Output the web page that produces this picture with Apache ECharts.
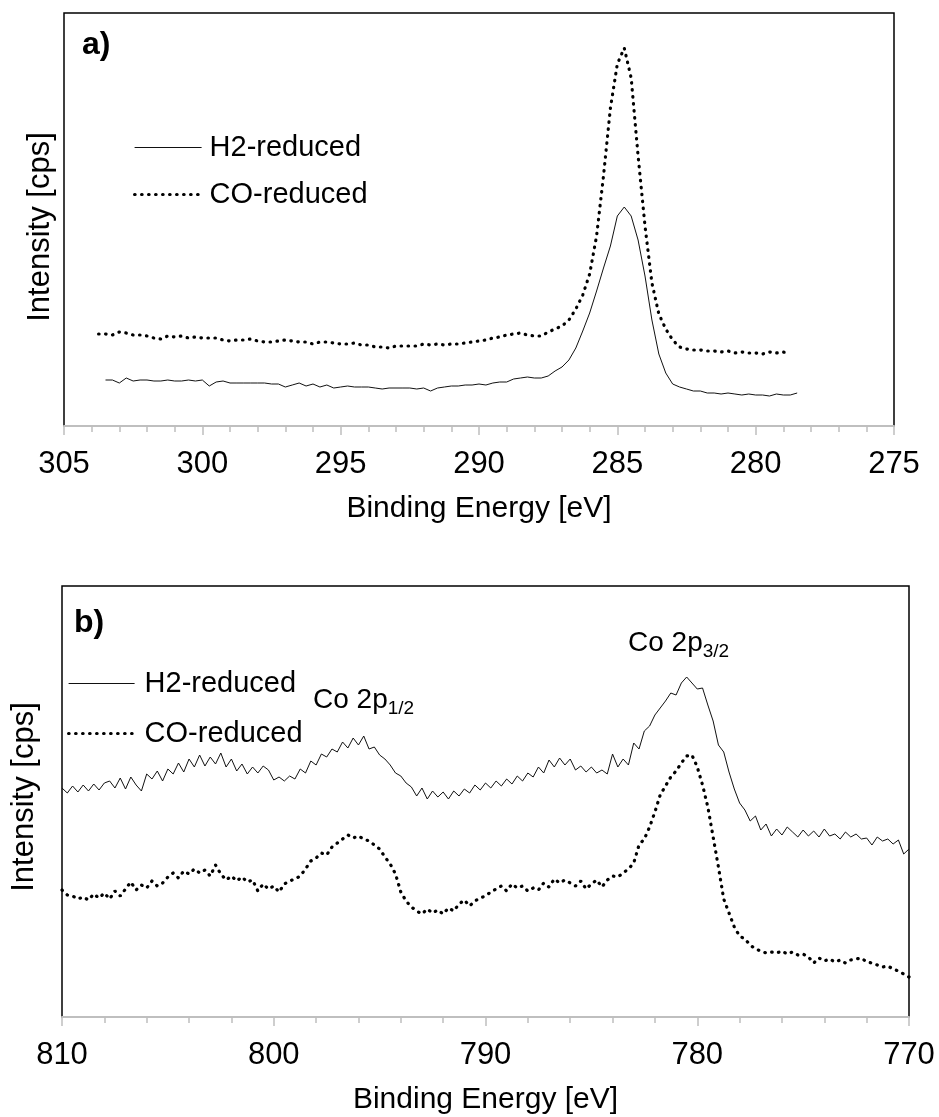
<!DOCTYPE html>
<html>
<head>
<meta charset="utf-8">
<title>XPS C 1s and Co 2p</title>
<script src="https://cdn.jsdelivr.net/npm/echarts@6/dist/echarts.min.js"></script>
<style>
  html, body { margin: 0; padding: 0; background: #fff; }
  #chart { width: 939px; height: 1117px; }
</style>
</head>
<body>
<div id="chart"></div>
<script>
// ---- data (intensity in arbitrary units) ----
// panel a) C 1s region, 0.25 eV steps going down in energy
const aH2Start = 303.5
const aCOStart = 303.75
const aStep = 0.25
const aH2 = [
  46, 46, 43, 48, 45, 46, 46, 45, 45, 46, 45, 45, 46, 45, 46, 40,
  44, 45, 43, 43, 43, 43, 43, 43, 42, 42, 39, 41, 43, 40, 42, 39,
  41, 38, 39, 40, 39, 39, 39, 38, 37, 38, 38, 38, 38, 37, 38, 35,
  38, 39, 40, 40, 41, 41, 42, 41, 43, 44, 44, 47, 48, 49, 48, 48,
  50, 55, 59, 66, 78, 95, 113, 135, 158, 180, 210, 219, 210, 186, 150, 106,
  72, 53, 42, 39, 37, 35, 35, 33, 33, 32, 33, 32, 31, 32, 31, 31,
  30, 32, 31, 31, 33
]
const aCO = [
  92, 92, 91, 94, 93, 91, 91, 90, 88, 87, 90, 89, 90, 88, 89, 88,
  88, 88, 86, 85, 86, 86, 87, 85, 84, 84, 85, 86, 85, 84, 84, 82,
  84, 84, 83, 82, 82, 83, 81, 81, 79, 79, 78, 80, 80, 80, 80, 82,
  81, 82, 81, 82, 82, 83, 84, 85, 86, 88, 89, 91, 92, 93, 91, 90,
  90, 94, 97, 100, 106, 117, 131, 152, 190, 250, 318, 362, 378, 348, 270, 200,
  143, 112, 97, 86, 79, 77, 76, 76, 75, 75, 74, 75, 73, 74, 73, 73,
  72, 74, 73, 74, 72
]

// panel b) Co 2p region, 810 -> 770 eV in 0.25 eV steps (one row per eV)
const bStart = 810
const bStep = 0.25
const bH2 = [
  229, 224, 231, 225, 232, 226, 233, 227, 234, 236, 229, 239, 228, 240, 232, 226,
  243, 238, 246, 236, 248, 243, 254, 245, 258, 250, 262, 251, 260, 253, 264, 250,
  258, 246, 253, 243, 250, 244, 251, 247, 237, 240, 236, 241, 238, 248, 244, 256,
  252, 263, 260, 268, 265, 275, 269, 279, 272, 281, 268, 270, 262, 258, 252, 244,
  241, 234, 230, 221, 229, 218, 226, 220, 225, 218, 226, 221, 228, 224, 232, 227,
  234, 229, 236, 231, 238, 233, 241, 236, 244, 240, 250, 244, 257, 250, 259, 252,
  258, 247, 251, 245, 250, 244, 247, 243, 263, 250, 258, 252, 274, 268, 286, 291,
  302, 309, 316, 324, 322, 334, 340, 334, 328, 329, 312, 296, 272, 265, 245, 228,
  214, 207, 196, 201, 187, 193, 181, 188, 182, 190, 185, 180, 187, 181, 186, 180,
  188, 181, 183, 178, 185, 180, 183, 178, 179, 172, 180, 176, 178, 173, 177, 163,
  168
]
const bCO = [
  127, 122, 121, 118, 120, 117, 123, 119, 124, 118, 126, 121, 128, 135, 127, 132,
  129, 136, 131, 134, 140, 144, 139, 146, 143, 148, 144, 147, 141, 152, 143, 137,
  141, 136, 140, 135, 137, 126, 133, 128, 131, 125, 133, 136, 138, 141, 148, 156,
  159, 164, 162, 170, 174, 178, 182, 179, 181, 178, 176, 172, 168, 160, 153, 143,
  125, 116, 110, 106, 103, 108, 104, 107, 103, 109, 106, 113, 117, 111, 116, 119,
  121, 125, 128, 131, 126, 133, 129, 131, 126, 129, 127, 134, 130, 138, 134, 137,
  134, 131, 136, 128, 133, 137, 130, 137, 141, 140, 144, 148, 154, 172, 178, 190,
  205, 222, 231, 240, 246, 254, 261, 262, 250, 232, 210, 180, 150, 118, 104, 90,
  81, 78, 72, 68, 66, 64, 65, 64, 66, 63, 65, 62, 63, 60, 54, 59,
  56, 58, 55, 57, 54, 57, 58, 59, 55, 54, 52, 50, 51, 48, 46, 43,
  40
]

const seriesNames = ['H2-reduced', 'CO-reduced']
const xTitle = 'Binding Energy [eV]'
const yTitle = 'Intensity [cps]'

// ---- styling ----
const FONT = '"Liberation Sans", Arial, Helvetica, sans-serif'
const AXIS_GREY = '#bfbfbf'
const solidLine = { color: '#111', width: 1 }
const dotLine = { color: '#000', width: 3.2, type: [0.5, 6.5], cap: 'round' }

function toPairs(start, step, values) {
  return values.map((v, i) => [+(start - i * step).toFixed(2), v])
}

function makeXAxis(gridIndex, min, max, interval, minorSplit) {
  return {
    type: 'value',
    gridIndex,
    inverse: true,
    min,
    max,
    interval,
    name: xTitle,
    nameLocation: 'middle',
    nameGap: 68,
    nameTextStyle: { fontFamily: FONT, fontSize: 30, color: '#000' },
    axisLine: { show: true, onZero: false, lineStyle: { color: AXIS_GREY, width: 2 } },
    axisTick: { show: true, length: 9, lineStyle: { color: AXIS_GREY, width: 1.5 } },
    minorTick: { show: true, splitNumber: minorSplit, length: 6, lineStyle: { color: AXIS_GREY, width: 1.5 } },
    axisLabel: { margin: 23, fontFamily: FONT, fontSize: 31, color: '#000' },
    splitLine: { show: false },
    minorSplitLine: { show: false }
  }
}

function makeYAxis(gridIndex, max, nameGap, namePadding) {
  return {
    type: 'value',
    gridIndex,
    min: 0,
    max,
    name: yTitle,
    nameLocation: 'middle',
    nameGap,
    nameTextStyle: { fontFamily: FONT, fontSize: 31, color: '#000', padding: namePadding },
    axisLine: { show: false },
    axisTick: { show: false },
    axisLabel: { show: false },
    splitLine: { show: false }
  }
}

function makeLegend(left, top, itemWidth, itemGap, textPadLeft) {
  return {
    orient: 'vertical',
    left,
    top,
    padding: 0,
    itemWidth,
    itemHeight: 29,
    itemGap,
    selectedMode: false,
    data: seriesNames,
    textStyle: { fontFamily: FONT, fontSize: 29, color: '#000', padding: [0, 0, 0, textPadLeft] },
    itemStyle: { color: 'rgba(0,0,0,0)', borderWidth: 0 },
    lineStyle: { width: 'inherit', color: 'inherit', type: 'inherit', cap: 'inherit' }
  }
}

function lineSeries(name, axisIndex, data, style) {
  return {
    type: 'line',
    name,
    xAxisIndex: axisIndex,
    yAxisIndex: axisIndex,
    data,
    symbol: 'none',
    smooth: false,
    silent: true,
    lineStyle: style
  }
}

function label(x, y, text, extra) {
  return {
    type: 'text',
    x,
    y,
    silent: true,
    style: Object.assign({ text, fill: '#000', fontFamily: FONT, align: 'left' }, extra)
  }
}

function peakLabel(x, y, sub) {
  return {
    type: 'text',
    x,
    y,
    silent: true,
    style: {
      text: '{m|Co 2p}{s|' + sub + '}',
      align: 'left',
      verticalAlign: 'bottom',
      fill: '#000',
      rich: {
        m: { fontFamily: FONT, fontSize: 28, fill: '#000', padding: [0, 0, 4, 0], verticalAlign: 'bottom' },
        s: { fontFamily: FONT, fontSize: 19, fill: '#000', verticalAlign: 'bottom' }
      }
    }
  }
}

const chart = echarts.init(document.getElementById('chart'), null, { renderer: 'canvas' })

chart.setOption({
  animation: false,
  backgroundColor: '#fff',
  grid: [
    { left: 64, top: 13, right: 45, height: 413, show: true, borderColor: '#000', borderWidth: 1.5, outerBoundsMode: 'none' },
    { left: 62, top: 586, right: 30, height: 431, show: true, borderColor: '#000', borderWidth: 1.5, outerBoundsMode: 'none' }
  ],
  xAxis: [
    makeXAxis(0, 275, 305, 5, 5),
    makeXAxis(1, 770, 810, 10, 5)
  ],
  yAxis: [
    makeYAxis(0, 413, 8, [0, 15, 0, 0]),
    makeYAxis(1, 431, 22, [0, 0, 0, 9])
  ],
  legend: [
    makeLegend(133, 133, 67, 18, 3),
    makeLegend(67, 669, 66, 21, 5)
  ],
  series: [
    lineSeries(seriesNames[0], 0, toPairs(aH2Start, aStep, aH2), solidLine),
    lineSeries(seriesNames[1], 0, toPairs(aCOStart, aStep, aCO), dotLine),
    lineSeries(seriesNames[0], 1, toPairs(bStart, bStep, bH2), solidLine),
    lineSeries(seriesNames[1], 1, toPairs(bStart, bStep, bCO), dotLine)
  ],
  graphic: [
    label(82, 45.5, 'a)', { fontSize: 32, fontWeight: 'bold', verticalAlign: 'middle' }),
    label(74, 623.5, 'b)', { fontSize: 32, fontWeight: 'bold', verticalAlign: 'middle' }),
    peakLabel(313, 718, '1/2'),
    peakLabel(628, 661, '3/2')
  ]
})

window.addEventListener('resize', () => chart.resize())
</script>
</body>
</html>
